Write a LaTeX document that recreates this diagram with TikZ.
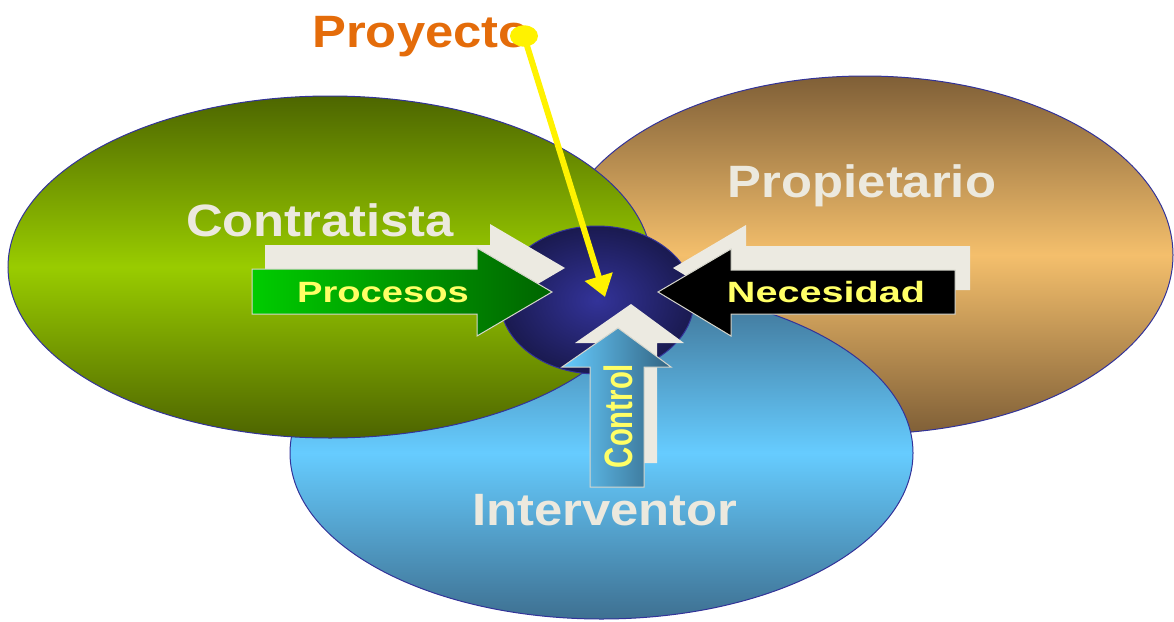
\documentclass[tikz,border=0pt]{standalone}
\usepackage{fontspec}
\setmainfont{Liberation Sans}
\usepackage{tikz}
\usetikzlibrary{arrows.meta,shapes.geometric}

\definecolor{creamtxt}{RGB}{236,233,222}
\definecolor{shadowcream}{RGB}{236,234,225}
\definecolor{labyellow}{RGB}{255,255,102}
\definecolor{proyorange}{RGB}{228,108,10}
\definecolor{edgeblue}{RGB}{51,51,153}
\definecolor{edgegray}{RGB}{215,215,205}

\begin{document}
\begin{tikzpicture}[x=0.75pt,y=0.75pt,yscale=-1,xscale=1,
    bubble/.style={draw=edgeblue,line width=0.75pt},
    circlab/.style={anchor=base,inner sep=0.75pt,text=creamtxt,font=\bfseries\fontsize{34}{40}\selectfont,xscale=1.12},
    arrlab/.style={anchor=base,inner sep=0.75pt,text=labyellow,font=\bfseries\fontsize{22}{26}\selectfont},
    shadowarr/.style={fill=shadowcream},
    blockarr/.style={draw=edgegray,line width=0.75pt}]
    \useasboundingbox (0,0) rectangle (1174,621);

    %Shape: Ellipse [propietario]
    \draw[bubble, top color={rgb,255:red,127;green,95;blue,55}, bottom color={rgb,255:red,127;green,95;blue,55}, middle color={rgb,255:red,244;green,191;blue,108}] (865,255) ellipse [x radius=308, y radius=179];
    %Shape: Ellipse [interventor]
    \draw[bubble, top color={rgb,255:red,62;green,112;blue,145}, bottom color={rgb,255:red,62;green,112;blue,145}, middle color={rgb,255:red,102;green,204;blue,255}] (601.5,453) ellipse [x radius=311.5, y radius=166];
    %Shape: Ellipse [contratista]
    \draw[bubble, top color={rgb,255:red,77;green,102;blue,0}, bottom color={rgb,255:red,77;green,100;blue,0}, middle color={rgb,255:red,153;green,204;blue,0}] (330,267) ellipse [x radius=322, y radius=171];
    %Shape: Ellipse [centre]
    \draw[bubble, inner color={rgb,255:red,51;green,51;blue,153}, outer color={rgb,255:red,26;green,26;blue,80}] (597,300) ellipse [x radius=97, y radius=74];

    %Shape: Right Arrow [procesos]
    \fill[shadowarr, shift={(13,-24)}] (252,269) -- (477,269) -- (477,248) -- (552,292) -- (477,336) -- (477,314) -- (252,314) -- cycle;
    \draw[blockarr, left color={rgb,255:red,0;green,204;blue,0}, right color={rgb,255:red,0;green,100;blue,0}] (252,269) -- (477,269) -- (477,248) -- (552,292) -- (477,336) -- (477,314) -- (252,314) -- cycle;
    %Shape: Left Arrow [necesidad]
    \fill[shadowarr, shift={(15,-24)}] (955,270) -- (731,270) -- (731,249) -- (658,292) -- (731,336) -- (731,314) -- (955,314) -- cycle;
    \draw[blockarr, fill=black] (955,270) -- (731,270) -- (731,249) -- (658,292) -- (731,336) -- (731,314) -- (955,314) -- cycle;
    %Shape: Up Arrow [control]
    \fill[shadowarr, shift={(13,-24)}] (590,487) -- (590,367) -- (562,367) -- (618,328) -- (671,367) -- (644,367) -- (644,487) -- cycle;
    \draw[blockarr, left color={rgb,255:red,102;green,204;blue,255}, right color={rgb,255:red,51;green,100;blue,130}] (590,487) -- (590,367) -- (562,367) -- (618,328) -- (671,367) -- (644,367) -- (644,487) -- cycle;

    % Text Node
    \node[circlab] (contratista) at (320,236) {Contratista};
    % Text Node
    \node[circlab] (propietario) at (862,197) {Propietario};
    % Text Node
    \node[circlab] (interventor) at (605,525) {Interventor};
    % Text Node
    \node[circlab, text=proyorange] (proyecto) at (421,47) {Proyecto};
    % Text Node
    \node[arrlab, xscale=1.3] (procesos) at (383,302) {Procesos};
    % Text Node
    \node[arrlab, xscale=1.35] (necesidad) at (826,302) {Necesidad};
    % Text Node
    \node[arrlab, xscale=1.35, rotate=90] (control) at (632,416) {Control};

    %Shape: Ellipse [pointer]
    \node[ellipse, fill=yellow, inner sep=0pt, minimum width=21pt, minimum height=16pt] (dot) at (524,36) {};
    \coordinate (tip) at (605,297);
    %Straight Lines [pointer]
    \draw[yellow, line width=4.5pt, -{Triangle[length=16pt,width=21pt]}] (dot.center) -- (tip);

\end{tikzpicture}
\end{document}
